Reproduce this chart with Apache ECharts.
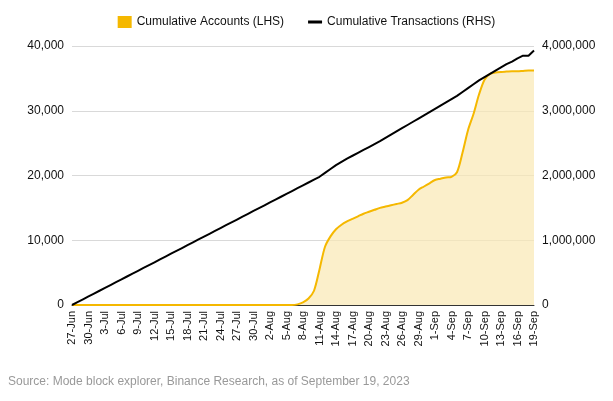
<!DOCTYPE html>
<html>
<head>
<meta charset="utf-8">
<script src="https://cdn.jsdelivr.net/npm/echarts@6/dist/echarts.min.js"></script>
<style>
  html, body { margin: 0; padding: 0; background: #fff; }
  #chart { width: 613px; height: 401px; }
</style>
</head>
<body>
<div id="chart"></div>
<script>
// categorias (dias)
const dates = [
    '27-Jun','28-Jun','29-Jun','30-Jun',
    '1-Jul','2-Jul','3-Jul','4-Jul','5-Jul','6-Jul','7-Jul','8-Jul','9-Jul','10-Jul',
    '11-Jul','12-Jul','13-Jul','14-Jul','15-Jul','16-Jul','17-Jul','18-Jul','19-Jul','20-Jul',
    '21-Jul','22-Jul','23-Jul','24-Jul','25-Jul','26-Jul','27-Jul','28-Jul','29-Jul','30-Jul','31-Jul',
    '1-Aug','2-Aug','3-Aug','4-Aug','5-Aug','6-Aug','7-Aug','8-Aug','9-Aug','10-Aug',
    '11-Aug','12-Aug','13-Aug','14-Aug','15-Aug','16-Aug','17-Aug','18-Aug','19-Aug','20-Aug',
    '21-Aug','22-Aug','23-Aug','24-Aug','25-Aug','26-Aug','27-Aug','28-Aug','29-Aug','30-Aug','31-Aug',
    '1-Sep','2-Sep','3-Sep','4-Sep','5-Sep','6-Sep','7-Sep','8-Sep','9-Sep','10-Sep',
    '11-Sep','12-Sep','13-Sep','14-Sep','15-Sep','16-Sep','17-Sep','18-Sep','19-Sep'
];

const accounts = [
    0,0,0,0,0,0,0,0,0,0,
    0,0,0,0,0,0,0,0,0,0,
    0,0,0,0,0,0,0,0,0,0,
    0,0,0,0,0,0,0,0,0,0,
    0,100,400,1000,2200,5500,9000,10600,11700,12400,
    12900,13300,13700,14100,14400,14700,15000,15200,15400,15600,
    15800,16200,17000,17800,18300,18800,19300,19500,19700,19800,
    20500,23500,27000,29500,32500,34800,35700,35900,36000,36050,
    36100,36100,36150,36200,36200
];

const transactions = [
    0,44000,88000,132000,176000,220000,264000,308000,352000,396000,
    440000,484000,528000,572000,616000,660000,704000,748000,792000,836000,
    880000,924000,968000,1012000,1056000,1100000,1144000,1188000,1232000,1276000,
    1320000,1364000,1408000,1452000,1496000,1540000,1584000,1628000,1672000,1716000,
    1760000,1804000,1848000,1892000,1936000,1980000,2040000,2100000,2160000,2210000,
    2260000,2305000,2350000,2395000,2440000,2485000,2530000,2580000,2630000,2680000,
    2730000,2780000,2830000,2880000,2930000,2980000,3030000,3080000,3130000,3180000,
    3230000,3290000,3350000,3410000,3470000,3520000,3570000,3620000,3670000,3720000,
    3760000,3810000,3850000,3850000,3930000
];

const FONT = 'Liberation Sans, Arial, sans-serif';

(function () {
    const chart = echarts.init(document.getElementById('chart'));
    const fmt = v => v.toLocaleString('en-US');

    chart.setOption({
        animation: false,
        textStyle: { fontFamily: FONT },
        legend: {
            top: 11,
            left: 'center',
            itemGap: 24,
            textStyle: { fontSize: 12, color: '#111' },
            data: [
                { name: 'Cumulative Accounts (LHS)', icon: 'rect', itemStyle: { color: '#f5b800' } },
                { name: 'Cumulative Transactions (RHS)', icon: 'path://M0,5H14V8H0Z', itemStyle: { color: '#000' } }
            ],
            itemWidth: 14,
            itemHeight: 12
        },
        grid: { left: 72, right: 79, top: 46, bottom: 96 },
        xAxis: {
            type: 'category',
            data: dates,
            boundaryGap: false,
            axisLine: { lineStyle: { color: '#333', width: 1 } },
            axisTick: { show: false },
            axisLabel: { interval: 2, rotate: 90, fontSize: 11, color: '#111', margin: 6 }
        },
        yAxis: [
            {
                type: 'value', min: 0, max: 40000, interval: 10000,
                axisLabel: { formatter: fmt, fontSize: 12, color: '#111', margin: 8 },
                splitLine: { lineStyle: { color: '#d9d9d9' } },
                axisLine: { show: false }
            },
            {
                type: 'value', min: 0, max: 4000000, interval: 1000000,
                axisLabel: { formatter: fmt, fontSize: 12, color: '#111', margin: 8 },
                splitLine: { show: false },
                axisLine: { show: false }
            }
        ],
        series: [
            {
                name: 'Cumulative Accounts (LHS)',
                type: 'line',
                data: accounts,
                yAxisIndex: 0,
                smooth: 0.3,
                showSymbol: false,
                lineStyle: { color: '#f5b800', width: 2 },
                itemStyle: { color: '#f5b800' },
                areaStyle: { color: '#f9e8b3' }
            },
            {
                name: 'Cumulative Transactions (RHS)',
                type: 'line',
                data: transactions,
                yAxisIndex: 1,
                showSymbol: false,
                lineStyle: { color: '#000', width: 2 },
                itemStyle: { color: '#000' }
            }
        ],
        graphic: [{
            type: 'text', left: 8, top: 376,
            style: {
                text: 'Source: Mode block explorer, Binance Research, as of September 19, 2023',
                fill: '#999', font: '12px ' + FONT
            }
        }]
    });
})();
</script>
</body>
</html>
